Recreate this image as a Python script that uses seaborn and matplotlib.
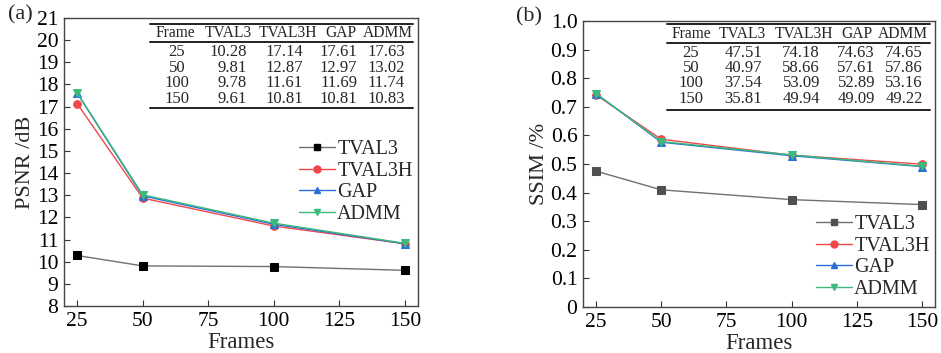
import numpy as np
import pandas as pd
import matplotlib
matplotlib.use("Agg")
import matplotlib.pyplot as plt
import seaborn as sns
from matplotlib.lines import Line2D

# ---- data ----
frames = [25, 50, 100, 150]
methods = ["TVAL3", "TVAL3H", "GAP", "ADMM"]
psnr_tval3 = [10.28, 9.81, 9.78, 9.61]
psnr_tval3h = [17.14, 12.87, 11.61, 10.81]
psnr_gap = [17.61, 12.97, 11.69, 10.81]
psnr_admm = [17.63, 13.02, 11.74, 10.83]
ssim_tval3 = [47.51, 40.97, 37.54, 35.81]
ssim_tval3h = [74.18, 58.66, 53.09, 49.94]
ssim_gap = [74.63, 57.61, 52.89, 49.09]
ssim_admm = [74.65, 57.86, 53.16, 49.22]
x_ticks = [25, 50, 75, 100, 125, 150]
psnr_ticks = list(range(8, 22))
ssim_ticks = [0, 0.1, 0.2, 0.3, 0.4, 0.5, 0.6, 0.7, 0.8, 0.9, 1.0]
ssim_ticklabels = ["0", "0.1", "0.2", "0.3", "0.4", "0.5", "0.6", "0.7", "0.8", "0.9", "1.0"]

psnr = {"TVAL3": psnr_tval3, "TVAL3H": psnr_tval3h, "GAP": psnr_gap, "ADMM": psnr_admm}
ssim = {"TVAL3": ssim_tval3, "TVAL3H": ssim_tval3h, "GAP": ssim_gap, "ADMM": ssim_admm}

def long_df(d, scale=1.0):
    rows = []
    for m in methods:
        for f, v in zip(frames, d[m]):
            rows.append({"Frames": f, "Method": m, "Value": v * scale})
    return pd.DataFrame(rows)

df_psnr = long_df(psnr)
df_ssim = long_df(ssim, 0.01)

sns.set_theme(style="white")
plt.rcParams["font.family"] = ["Liberation Serif", "DejaVu Serif"]

W, H = 941, 353
fig = plt.figure(figsize=(W / 100, H / 100), dpi=100)

def fx(px):
    return px / W

def fy(py):
    return 1 - py / H

ax1 = fig.add_axes([fx(64), fy(306), fx(418) - fx(64), fy(18) - fy(306)])
ax2 = fig.add_axes([fx(583), fy(307), fx(935) - fx(583), fy(21) - fy(307)])

markers_l = {"TVAL3": "s", "TVAL3H": "o", "GAP": "^", "ADMM": "v"}
pal_a = {"TVAL3": "#000000", "TVAL3H": "#f0484a", "GAP": "#2b6fd6", "ADMM": "#3dba7a"}
pal_b = {"TVAL3": "#505050", "TVAL3H": "#f0484a", "GAP": "#2b6fd6", "ADMM": "#3dba7a"}
line_a = {"TVAL3": "#707070", "TVAL3H": "#f0484a", "GAP": "#2b6fd6", "ADMM": "#3dba7a"}
line_b = {"TVAL3": "#707070", "TVAL3H": "#f0484a", "GAP": "#2b6fd6", "ADMM": "#3dba7a"}

for ax, df, pal, lc in [(ax1, df_psnr, pal_a, line_a), (ax2, df_ssim, pal_b, line_b)]:
    for m in methods:
        sub = df[df["Method"] == m]
        sns.lineplot(data=sub, x="Frames", y="Value", ax=ax, color=lc[m],
                     marker=markers_l[m], markersize=5.5, markerfacecolor=pal[m],
                     markeredgecolor=pal[m], linewidth=1.0, label=m, legend=False)

for ax in (ax1, ax2):
    ax.set_xlim(20, 155)
    ax.set_xticks(x_ticks)
    ax.tick_params(axis="both", direction="in", length=4, width=0.8, colors="#333333",
                   labelsize=15.5, labelcolor="black", bottom=True, left=True, top=False, right=False, pad=4)
    for s in ax.spines.values():
        s.set_color("#444444")
        s.set_linewidth(1.0)
    ax.set_xlabel("Frames", fontsize=16.5, labelpad=0)
    ax.xaxis.set_label_coords(0.5, -0.09)

ax1.set_ylim(8, 21)
ax1.set_yticks(psnr_ticks)
ax1.set_ylabel("PSNR /dB", fontsize=16, labelpad=1)
ax2.set_ylim(0, 1.0)
ax2.set_yticks(ssim_ticks)
ax2.set_yticklabels(ssim_ticklabels)
ax2.set_ylabel("SSIM /%", fontsize=16, labelpad=1)

fig.text(fx(8), fy(15), "(a)", fontsize=16, va="center", ha="left")
fig.text(fx(516), fy(17), "(b)", fontsize=16, va="center", ha="left")

# legends
def add_legend(ax, pal, lcol, loc_px):
    handles = [Line2D([0], [0], color=lcol[m], marker=markers_l[m], markersize=5,
                      markerfacecolor=pal[m], markeredgecolor=pal[m], linewidth=1.0) for m in methods]
    leg = ax.legend(handles, methods, loc="upper left",
                    bbox_to_anchor=(fx(loc_px[0]), fy(loc_px[1])), bbox_transform=fig.transFigure,
                    frameon=False, fontsize=14.5, handlelength=1.8, handletextpad=0.1,
                    labelspacing=0.12, borderpad=0, borderaxespad=0)
    return leg

add_legend(ax1, pal_a, line_a, (299, 140))
add_legend(ax2, pal_b, line_b, (816, 215))

# tables
def draw_table(x0, x1, ytop, ymid, ybot, header_cx, col_right, frame_cx, hy, rows_y, data):
    for y in (ytop, ymid, ybot):
        fig.add_artist(Line2D([fx(x0), fx(x1)], [fy(y), fy(y)], transform=fig.transFigure,
                              color="#222222", linewidth=1.4))
    hdr = ["Frame"] + methods
    for h, cx in zip(hdr, header_cx):
        fig.text(fx(cx), fy(hy), h, fontsize=11.2, ha="center", va="center")
    for i, ry in enumerate(rows_y):
        fig.text(fx(frame_cx), fy(ry), str(frames[i]), fontsize=12, ha="center", va="center")
        for m, rx in zip(methods, col_right):
            fig.text(fx(rx), fy(ry), f"{data[m][i]:.2f}", fontsize=12, ha="right", va="center")

draw_table(150, 413, 24, 42, 108, [175, 228, 288, 341, 388], [247, 303, 357, 405], 177,
           33, [52, 68, 83, 99], psnr)
draw_table(667, 930, 24, 43, 110, [691, 742, 804, 857, 903], [762, 820, 875, 923], 691,
           34, [53, 68, 83, 99], ssim)

fig.savefig("out.png", dpi=100)
